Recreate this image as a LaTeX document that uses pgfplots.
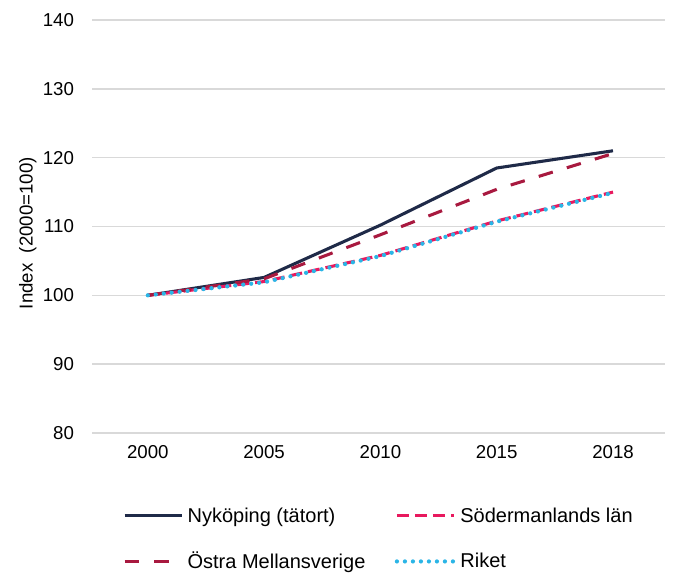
\documentclass[border=0pt]{standalone}
\usepackage{fontspec}
\setmainfont{Liberation Sans}
\usepackage{pgfplots}
\pgfplotsset{compat=1.18}
\definecolor{navy}{HTML}{1F2A48}
\definecolor{pinkred}{HTML}{E8195E}
\definecolor{maroon}{HTML}{A8193F}
\definecolor{skyb}{HTML}{2BB5E6}
\definecolor{gridg}{HTML}{D9D9D9}
\begin{document}
\begin{tikzpicture}
\useasboundingbox (0pt,0pt) rectangle (514.5pt,430.5pt);
\begin{axis}[
  at={(69pt,105.75pt)}, anchor=south west,
  scale only axis, width=429.75pt, height=309.75pt,
  xmin=-0.48, xmax=4.447, ymin=80, ymax=140,
  xtick={0,1,2,3,4}, xticklabels={2000,2005,2010,2015,2018},
  ytick={80,90,...,140},
  ymajorgrids, grid style={gridg, line width=1.1pt},
  axis line style={draw=none}, major tick style={draw=none},
  /pgf/number format/assume math mode=true,
  tick label style={font=\fontsize{14}{16}\selectfont},
  xticklabel style={yshift=-6pt},
  yticklabel style={xshift=-10pt},
  ylabel={Index\ \ (2000=100)},
  ylabel style={at={(axis description cs:-0.112,0.484)}, anchor=center, font=\fontsize{14}{16}\selectfont},
  legend columns=2,
  legend style={draw=none, fill=none, at={(axis description cs:0.047,-0.167)}, anchor=north west,
    font=\fontsize{15}{17}\selectfont, row sep=17pt,
    /tikz/every odd column/.append style={column sep=1pt},
    /tikz/every even column/.append style={column sep=20pt}},
  legend cell align=left,
  legend image code/.code={\draw[#1] (0pt,0pt) -- (43pt,0pt);},
]
\addplot[navy, line width=2.3pt] coordinates {(0,100) (1,102.6) (2,110.2) (3,118.5) (4,121.0)};
\addlegendentry{Nyköping (tätort)}
\addplot[pinkred, line width=2.3pt, dash pattern=on 9pt off 4.5pt] coordinates {(0,100) (1,102.0) (2,105.8) (3,110.8) (4,115.0)};
\addlegendentry{Södermanlands län}
\addplot[maroon, line width=2.3pt, dash pattern=on 11pt off 11pt] coordinates {(0,100) (1,102.4) (2,108.8) (3,115.4) (4,120.6)};
\addlegendentry{Östra Mellansverige}
\addplot[skyb, line width=3.2pt, line cap=round, dash pattern=on 0pt off 6pt] coordinates {(0,100) (1,101.9) (2,105.7) (3,110.7) (4,114.9)};
\addlegendentry{Riket}
\end{axis}
\end{tikzpicture}
\end{document}
